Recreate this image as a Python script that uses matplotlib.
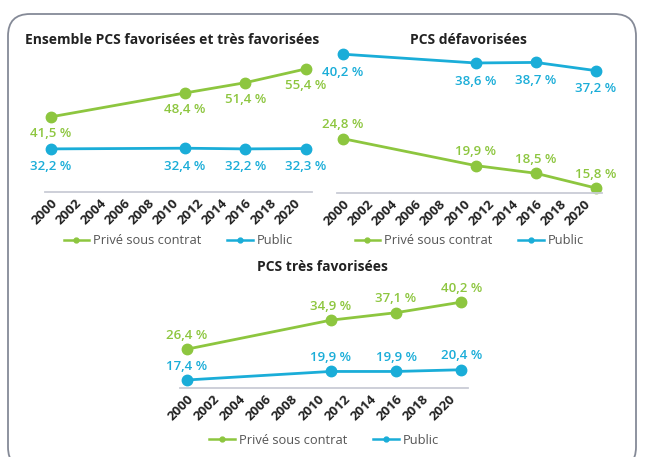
import matplotlib
matplotlib.use('Agg')
from matplotlib import pyplot as plt
from matplotlib.lines import Line2D
from matplotlib.patches import FancyBboxPatch
from matplotlib.transforms import IdentityTransform

plt.rcParams['font.family'] = ['Open Sans', 'DejaVu Sans']

years = [2000, 2011, 2016, 2021]
tick_years = list(range(2000, 2021, 2))

ens_prive = [41.5, 48.4, 51.4, 55.4]
ens_public = [32.2, 32.4, 32.2, 32.3]
def_prive = [24.8, 19.9, 18.5, 15.8]
def_public = [40.2, 38.6, 38.7, 37.2]
tf_prive = [26.4, 34.9, 37.1, 40.2]
tf_public = [17.4, 19.9, 19.9, 20.4]

GREEN = '#8dc63f'
BLUE = '#1aadd8'
W, H = 647, 457

fig = plt.figure(figsize=(W / 100, H / 100), dpi=100)

# rounded frame around everything
frame = FancyBboxPatch((8, -12), 628, 455, boxstyle='round,pad=0,rounding_size=22',
                       transform=IdentityTransform(), facecolor='none',
                       edgecolor='#858a97', linewidth=1.3)
fig.add_artist(frame)


def add_ax(x0, y0, x1, y1):
    return fig.add_axes([x0 / W, 1 - y1 / H, (x1 - x0) / W, (y1 - y0) / H])


def label(ax, xs, ys, color, offset):
    for x, y in zip(xs, ys):
        txt = f'{y:.1f}'.replace('.', ',') + ' %'
        ax.annotate(txt, (x, y), xytext=(0, offset), textcoords='offset points',
                    ha='center', va='center', color=color, fontsize=9.5,
                    fontweight='semibold', annotation_clip=False)


def panel(ax, prive, public, ylim, off_prive, off_public, title, title_xy, leg_y):
    ax.plot(years, prive, color=GREEN, lw=2, marker='o', ms=7.5, clip_on=False)
    ax.plot(years, public, color=BLUE, lw=2, marker='o', ms=7.5, clip_on=False)
    label(ax, years, prive, GREEN, off_prive)
    label(ax, years, public, BLUE, off_public)
    ax.set_xlim(1999.5, 2021.5)
    ax.set_ylim(*ylim)
    for s in ['top', 'right', 'left']:
        ax.spines[s].set_visible(False)
    ax.spines['bottom'].set_color('#c9ccd6')
    ax.spines['bottom'].set_linewidth(1.3)
    ax.set_yticks([])
    ax.set_xticks(tick_years)
    ax.set_xticklabels([str(t) for t in tick_years], rotation=45, ha='right',
                       rotation_mode='anchor', fontsize=9.5, fontweight='bold',
                       color='#222222')
    ax.tick_params(axis='x', length=0, pad=3)
    ax.patch.set_alpha(0)
    fig.text(title_xy[0] / W, 1 - title_xy[1] / H, title, ha='center', va='center',
             fontsize=10, fontweight='bold', color='#222222')
    handles = [Line2D([], [], color=GREEN, lw=1.8, marker='o', ms=3.5),
               Line2D([], [], color=BLUE, lw=1.8, marker='o', ms=3.5)]
    bb = ax.get_position()
    fig.legend(handles, ['Privé sous contrat', 'Public'], loc='center',
               bbox_to_anchor=((bb.x0 + bb.x1) / 2, 1 - leg_y / H), ncol=2,
               frameon=False, fontsize=9.3, labelcolor='#555555',
               handlelength=2.0, handletextpad=0.3, columnspacing=2.0)


ax1 = add_ax(45, 52, 312, 192)
panel(ax1, ens_prive, ens_public, (19.7, 60.3), -12, -13,
      'Ensemble PCS favorisées et très favorisées', (172, 40), 241)

ax2 = add_ax(337, 52, 602, 193)
panel(ax2, def_prive, def_public, (14.9, 40.6), 10, -13,
      'PCS défavorisées', (468, 40), 241)

ax3 = add_ax(180, 298, 468, 388)
panel(ax3, tf_prive, tf_public, (15.06, 41.4), 10, 10,
      'PCS très favorisées', (322, 267), 440)

fig.savefig('out.png', dpi=100)
